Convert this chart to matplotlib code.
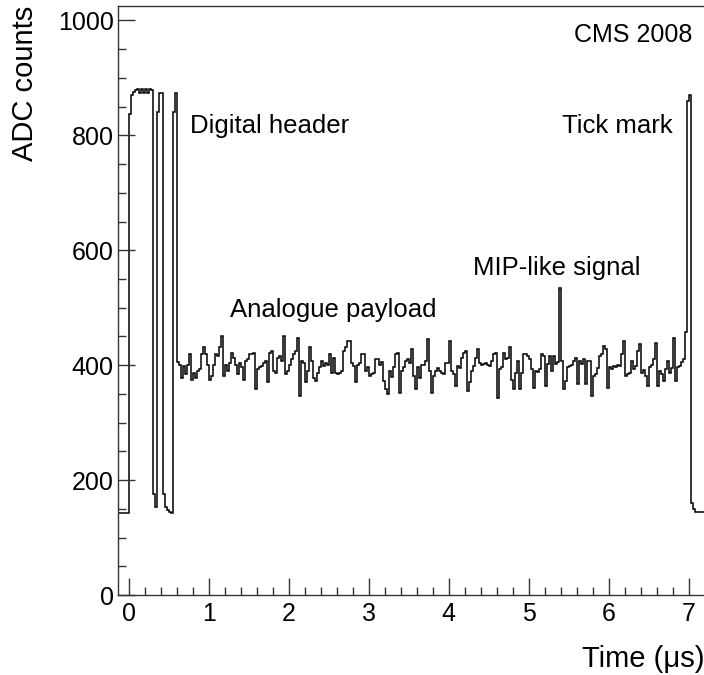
import numpy as np
import matplotlib.pyplot as plt

plt.rcParams['font.family'] = ['Liberation Sans', 'DejaVu Sans']

# Binning (25 ns samples), first bin edge in microseconds
bin_width = 0.025
t_start = -0.15

pre_header = [142, 142, 142, 142, 142, 142]
digital_header = [838, 871, 875, 879, 880, 873, 880, 874, 880, 873, 880, 879,
                  176, 153, 840, 874, 874,
                  176, 153, 148, 145, 143, 840, 874]
payload = [
    # 0.6 - 1.675
    406, 401, 378, 399, 384, 401, 419, 375, 387, 378, 390, 393, 419, 431, 419,
    401, 375, 381, 401, 419, 416, 431, 451, 381, 401, 390, 404, 422, 413, 401,
    384, 404, 396, 375, 407, 410, 419, 419, 422, 358, 393, 396, 398,
    # 1.675 - 2.775
    404, 407, 370, 422, 425, 390, 387, 413, 416, 407, 451, 384, 390, 401, 410,
    419, 425, 448, 346, 407, 404, 370, 390, 431, 407, 378, 372, 387, 396, 407,
    399, 404, 401, 419, 387, 412, 387, 384, 387, 390, 425, 431, 442, 442,
    # 2.775 - 3.875
    404, 398, 370, 401, 404, 419, 419, 390, 396, 381, 384, 386, 410, 410, 401,
    405, 372, 358, 349, 390, 380, 396, 419, 422, 352, 390, 396, 407, 410, 404,
    428, 381, 358, 396, 378, 400, 401, 407, 445, 390, 352, 381, 390, 395,
    # 3.875 - 4.975
    390, 387, 384, 404, 404, 442, 390, 384, 364, 399, 395, 413, 422, 425, 355,
    370, 390, 399, 413, 428, 404, 401, 402, 404, 401, 399, 407, 419, 422, 343,
    393, 396, 422, 410, 412, 431, 375, 358, 387, 407, 358, 387, 419, 419,
    # 4.975 - 6.075 (MIP-like hit)
    416, 410, 393, 361, 390, 388, 393, 419, 416, 364, 402, 416, 390, 416, 402,
    405, 535, 408, 358, 373, 396, 399, 400, 408, 413, 367, 408, 402, 410, 367,
    408, 408, 347, 381, 384, 395, 416, 419, 434, 428, 361, 396, 393, 398,
    # 6.075 - 6.975
    396, 400, 399, 419, 442, 381, 385, 387, 407, 393, 398, 425, 436, 387, 392,
    381, 364, 396, 400, 410, 439, 364, 390, 385, 373, 393, 407, 387, 395, 448,
    373, 396, 399, 405, 410, 457,
]
tick_mark = [860, 870]
trailer = [160, 150, 145, 145, 145, 145, 145, 145, 145]

adc = np.array(pre_header + digital_header + payload + tick_mark + trailer)
edges = t_start + bin_width * np.arange(len(adc) + 1)

fig = plt.figure(figsize=(7.04, 6.75), dpi=100)
ax = fig.add_axes([0.1676, 0.1185, 0.8324, 0.8725])

ax.stairs(adc, edges, baseline=None, color='black', linewidth=1.1)

ax.set_xlim(-0.134, 7.19)
ax.set_ylim(0, 1025)

ax.set_xticks(np.arange(0, 8, 1))
ax.set_xticks(np.arange(0, 7.2, 0.2), minor=True)
ax.set_yticks(np.arange(0, 1001, 200))
ax.set_yticks(np.arange(0, 1001, 50), minor=True)
ax.tick_params(which='both', direction='in', top=False, right=False,
               labelsize=18, width=1.0, color='#333333')
ax.tick_params(which='major', length=12)
ax.tick_params(which='minor', length=6)
ax.tick_params(axis='x', pad=5)
ax.tick_params(axis='y', pad=3)

for side in ['left', 'bottom', 'top']:
    ax.spines[side].set_linewidth(1.0)
    ax.spines[side].set_color('#333333')
ax.spines['right'].set_visible(False)

ax.set_xlabel('Time (\u03bcs)', fontsize=21, loc='right', labelpad=14)
ax.set_ylabel('ADC counts', fontsize=21, loc='top', labelpad=14)

ax.text(0.77, 817, 'Digital header', fontsize=18.5, va='center')
ax.text(6.80, 817, 'Tick mark', fontsize=18.5, va='center', ha='right')
ax.text(4.30, 569, 'MIP-like signal', fontsize=18.5, va='center')
ax.text(1.27, 496, 'Analogue payload', fontsize=18.5, va='center')
ax.text(7.05, 974, 'CMS 2008', fontsize=18, va='center', ha='right')

fig.savefig('out.png', dpi=100)
